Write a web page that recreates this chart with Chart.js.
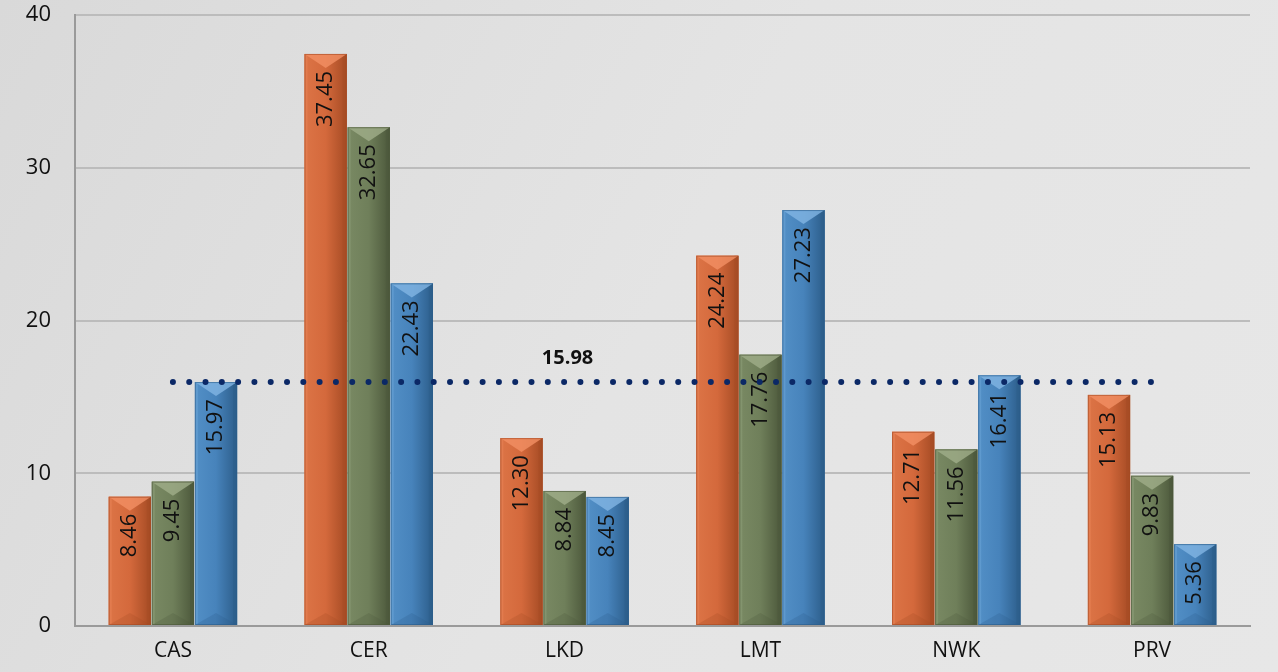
<!DOCTYPE html>
<html><head><meta charset="utf-8">
<script src="https://cdn.jsdelivr.net/npm/chart.js@4/dist/chart.umd.min.js"></script>
<style>html,body{margin:0;padding:0;background:#e2e2e2;}#w{width:1278px;height:672px;}</style>
</head><body><div id="w"><canvas id="c" width="1278" height="672"></canvas></div>
<script>
const categories = ['CAS','CER','LKD','LMT','NWK','PRV'];
const seriesA = [8.46, 37.45, 12.30, 24.24, 12.71, 15.13];
const seriesB = [9.45, 32.65, 8.84, 17.76, 11.56, 9.83];
const seriesC = [15.97, 22.43, 8.45, 27.23, 16.41, 5.36];
const averageValue = 15.98;
const averageLine = categories.map(() => averageValue);
const yTicks = [0, 10, 20, 30, 40];

const palettes = [
  {face:'#d4693c', light:'#f39064', dark:'#a54b24', edge:'#dc7446'},
  {face:'#6f7f5a', light:'#a0ae8a', dark:'#4c583b', edge:'#798963'},
  {face:'#4783bb', light:'#82b5e3', dark:'#2c5d8a', edge:'#528fc6'}
];

const bgPlugin = {
  id:'bg',
  beforeDraw(chart){
    const ctx = chart.ctx;
    const g = ctx.createLinearGradient(0,0,chart.width,chart.height);
    g.addColorStop(0,'#d9d9d9');
    g.addColorStop(0.5,'#e4e4e4');
    g.addColorStop(1,'#e7e7e7');
    ctx.save(); ctx.fillStyle = g; ctx.fillRect(0,0,chart.width,chart.height); ctx.restore();
  }
};

const bevelPlugin = {
  id:'bevel',
  afterDatasetDraw(chart, args){
    const di = args.index;
    const ds = chart.data.datasets[di];
    if (ds.type === 'line') return;
    const ctx = chart.ctx;
    const meta = args.meta;
    const p = palettes[di];
    meta.data.forEach((el, i) => {
      const w = el.width, l = el.x - w/2, r = el.x + w/2, t = el.y, b = el.base;
      const h = b - t;
      ctx.save();
      const g = ctx.createLinearGradient(l,0,r,0);
      g.addColorStop(0, p.edge); g.addColorStop(0.5, p.face); g.addColorStop(1, p.dark);
      ctx.fillStyle = g; ctx.fillRect(l,t,w,h);
      ctx.fillStyle = p.dark; ctx.globalAlpha = 0.5; ctx.fillRect(r-4,t,4,h);
      ctx.fillStyle = p.light; ctx.globalAlpha = 0.3; ctx.fillRect(l,t,3,h);
      const d = Math.min(14, h/2);
      ctx.globalAlpha = 0.8; ctx.fillStyle = p.light;
      ctx.beginPath(); ctx.moveTo(l,t); ctx.lineTo(r,t); ctx.lineTo(el.x, t+d); ctx.closePath(); ctx.fill();
      const d2 = Math.min(12, h/2);
      ctx.globalAlpha = 0.25; ctx.fillStyle = p.dark;
      ctx.beginPath(); ctx.moveTo(l,b); ctx.lineTo(r,b); ctx.lineTo(el.x, b-d2); ctx.closePath(); ctx.fill();
      ctx.globalAlpha = 0.6; ctx.strokeStyle = p.dark; ctx.lineWidth = 1;
      ctx.strokeRect(l+0.5,t+0.5,w-1,h-1);
      ctx.restore();
      ctx.save();
      ctx.translate(el.x, t + 17);
      ctx.rotate(-Math.PI/2);
      ctx.font = '22px "Open Sans"';
      ctx.fillStyle = '#111';
      ctx.textAlign = 'right'; ctx.textBaseline = 'middle';
      ctx.fillText(ds.data[i].toFixed(2), 0, 0);
      ctx.restore();
    });
  },
  afterDraw(chart){
    const ctx = chart.ctx;
    const xs = chart.scales.x, ys = chart.scales.y;
    ctx.save();
    ctx.font = 'bold 20px "Open Sans"';
    ctx.fillStyle = '#111';
    ctx.textAlign = 'center'; ctx.textBaseline = 'middle';
    ctx.fillText(averageValue.toFixed(2), xs.getPixelForValue(2) + 3, ys.getPixelForValue(averageValue) - 24);
    ctx.restore();
  }
};

new Chart(document.getElementById('c'), {
  data: {
    labels: categories,
    datasets: [
      {type:'bar', data: seriesA, backgroundColor: palettes[0].face, order: 2, categoryPercentage: 0.66, barPercentage: 0.98},
      {type:'bar', data: seriesB, backgroundColor: palettes[1].face, order: 2, categoryPercentage: 0.66, barPercentage: 0.98},
      {type:'bar', data: seriesC, backgroundColor: palettes[2].face, order: 2, categoryPercentage: 0.66, barPercentage: 0.98},
      {type:'line', data: averageLine, borderColor:'#0b2866', borderWidth: 6, borderDash:[0,16.3], borderCapStyle:'round', pointRadius:0, order: 0, fill:false}
    ]
  },
  options: {
    responsive:false, animation:false,
    layout:{padding:{top:15, right:28, left:0, bottom:0}},
    plugins:{legend:{display:false}, tooltip:{enabled:false}},
    scales:{
      x:{
        grid:{display:false, drawTicks:false},
        border:{display:true, color:'#9a9a9a', width:2},
        ticks:{font:{family:'Open Sans', size:21}, color:'#111', padding:12},
        afterFit(s){ s.height = 46; s.paddingLeft = 0; s.paddingRight = 0; }
      },
      y:{
        min:0, max:40,
        afterBuildTicks(s){ s.ticks = yTicks.map(v => ({value:v})); },
        grid:{color:'#bcbcbc', lineWidth:2, drawTicks:false},
        border:{display:true, color:'#9a9a9a', width:2},
        ticks:{font:{family:'Open Sans', size:22}, color:'#111', padding:24},
        afterFit(s){ s.width = 75; s.paddingTop = 0; s.paddingBottom = 0; }
      }
    }
  },
  plugins:[bgPlugin, bevelPlugin]
});
</script></body></html>
